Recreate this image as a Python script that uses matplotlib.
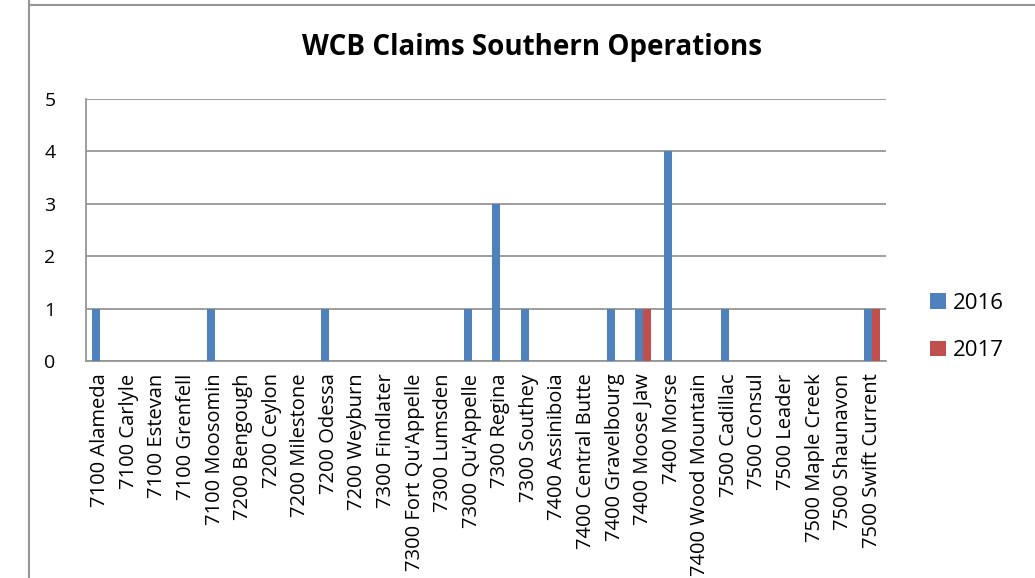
import matplotlib.pyplot as plt
import numpy as np
from matplotlib.lines import Line2D

plt.rcParams['font.family'] = ['Open Sans', 'DejaVu Sans']

sites = ["7100 Alameda", "7100 Carlyle", "7100 Estevan", "7100 Grenfell", "7100 Moosomin",
         "7200 Bengough", "7200 Ceylon", "7200 Milestone", "7200 Odessa", "7200 Weyburn",
         "7300 Findlater", "7300 Fort Qu'Appelle", "7300 Lumsden", "7300 Qu'Appelle",
         "7300 Regina", "7300 Southey", "7400 Assiniboia", "7400 Central Butte",
         "7400 Gravelbourg", "7400 Moose Jaw", "7400 Morse", "7400 Wood Mountain",
         "7500 Cadillac", "7500 Consul", "7500 Leader", "7500 Maple Creek",
         "7500 Shaunavon", "7500 Swift Current"]
claims_2016 = [1, 0, 0, 0, 1, 0, 0, 0, 1, 0, 0, 0, 0, 1, 3, 1, 0, 0, 1, 1, 4, 0, 1, 0, 0, 0, 0, 1]
claims_2017 = [0, 0, 0, 0, 0, 0, 0, 0, 0, 0, 0, 0, 0, 0, 0, 0, 0, 0, 0, 1, 0, 0, 0, 0, 0, 0, 0, 1]

fig = plt.figure(figsize=(10.35, 5.78), dpi=100)
ax = fig.add_axes([86/1035, 1 - 361/578, 800/1035, 262/578])

x = np.arange(len(sites))
w = 0.28
ax.bar(x - w/2, claims_2016, w, color='#4F81BD', label='2016', zorder=3)
ax.bar(x + w/2, claims_2017, w, color='#C0504D', label='2017', zorder=3)

ax.set_xlim(-0.5, len(sites) - 0.5)
ax.set_ylim(0, 5)
ax.set_yticks(range(6))
ax.yaxis.grid(True, color='#969696', linewidth=1.3, zorder=0)
for s in ['top', 'right']:
    ax.spines[s].set_visible(False)
for s in ['left', 'bottom']:
    ax.spines[s].set_color('#969696')
    ax.spines[s].set_linewidth(1.3)
ax.tick_params(axis='both', length=0)
ax.tick_params(axis='y', pad=22, labelsize=14)
ax.tick_params(axis='x', pad=9)
ax.set_xticks(x)
ax.set_xticklabels(sites, rotation=90, fontsize=14.5)

# title centred on the whole chart area (legend included), like Excel does
fig.text(532/1035, 1 - 47/578, 'WCB Claims Southern Operations', fontsize=20,
         fontweight='bold', ha='center', va='center')

ax.legend(loc='center left', bbox_to_anchor=(1.03, 0.13), frameon=False, fontsize=16,
          handlelength=0.72, handleheight=0.72, handletextpad=0.3, labelspacing=1.2)

fig.add_artist(Line2D([29/1035, 29/1035], [0, 1], color='#969696', linewidth=1.5))
fig.add_artist(Line2D([29/1035, 1], [1 - 5/578, 1 - 5/578], color='#969696', linewidth=1.5))

fig.savefig('out.png', dpi=100)
